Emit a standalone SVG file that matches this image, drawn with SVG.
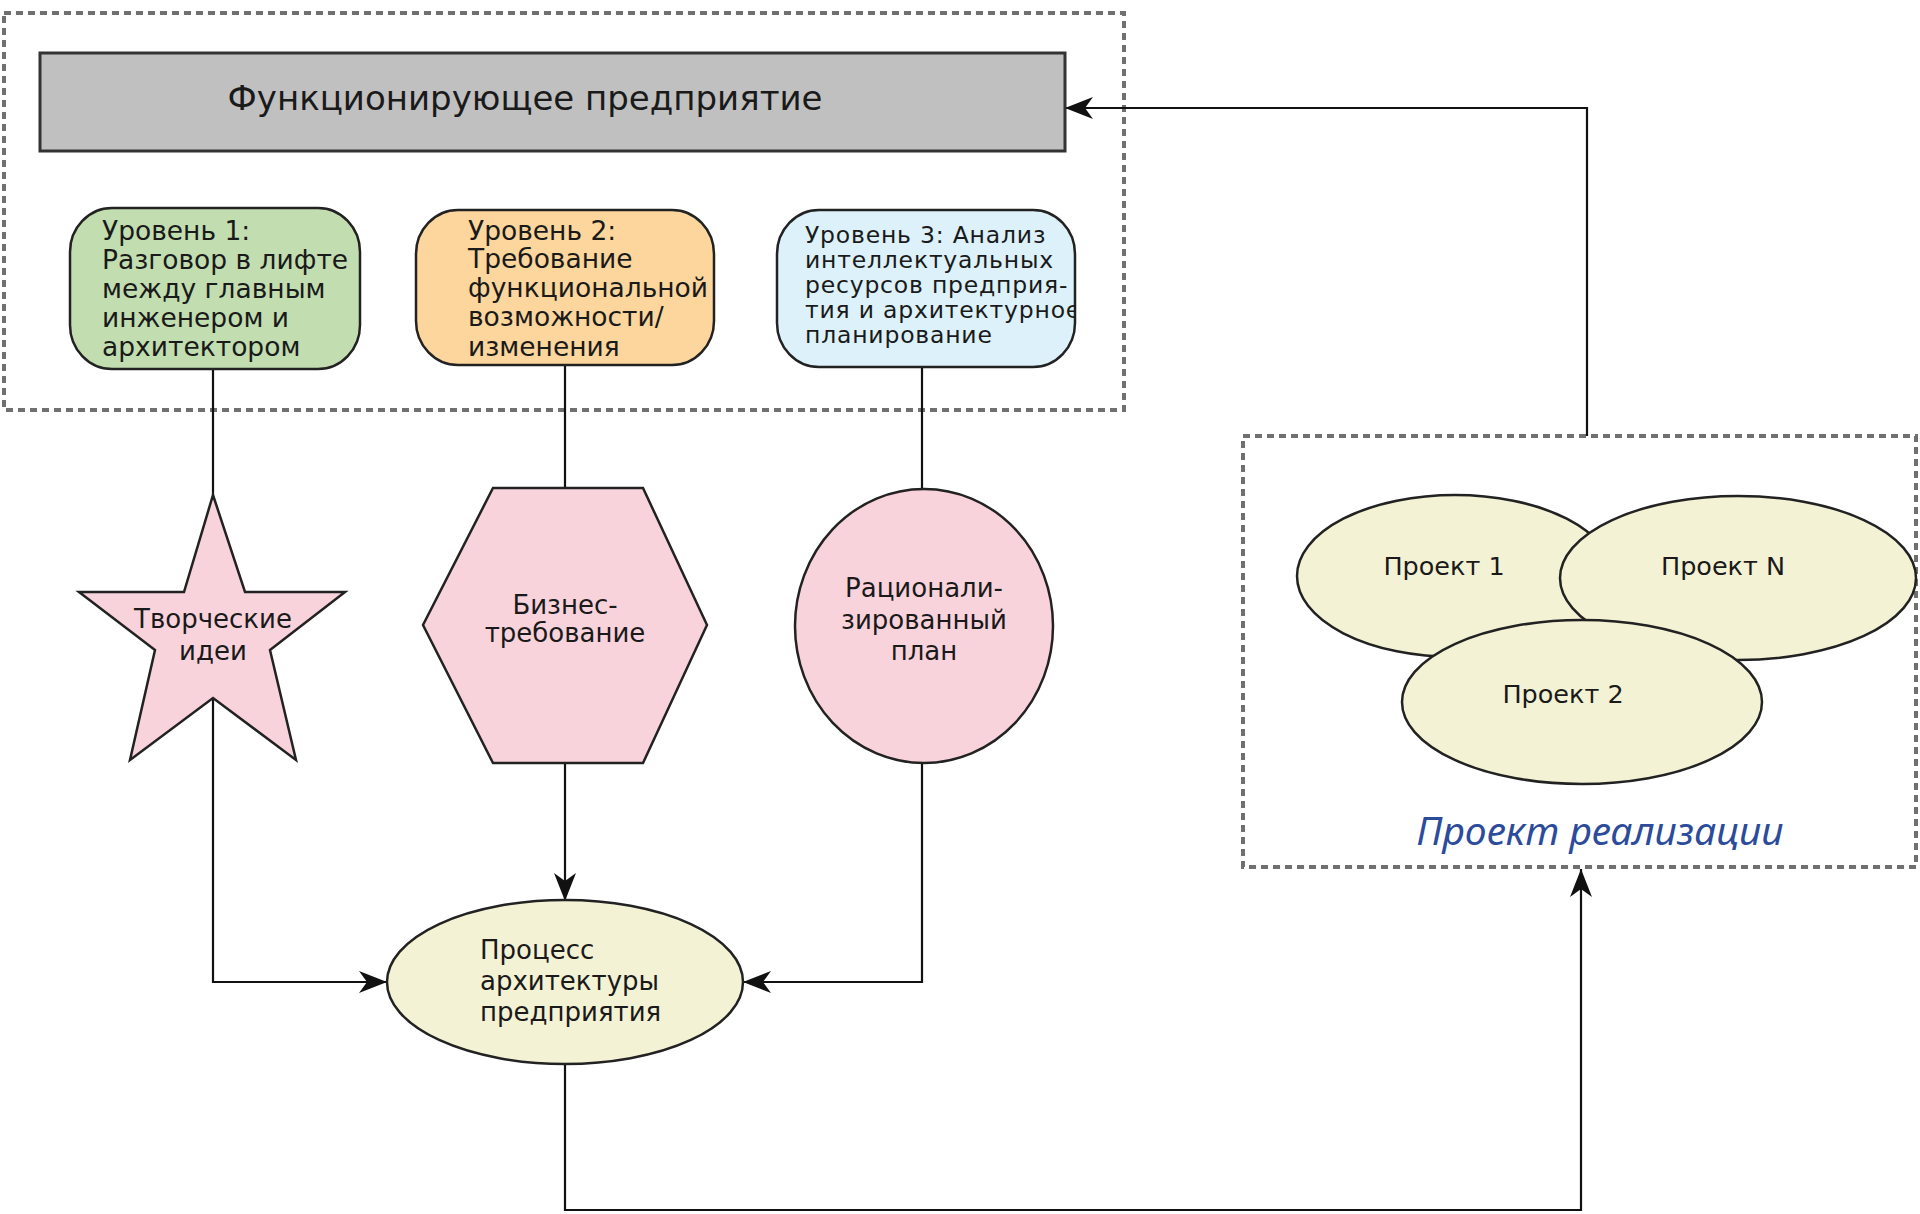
<svg xmlns="http://www.w3.org/2000/svg" width="1920" height="1214" viewBox="0 0 1920 1214">
<defs>
<style>
.dash{fill:none;stroke:#707070;stroke-width:4;stroke-dasharray:7 5}
.nd{stroke:#222;stroke-width:2.5}
.t{font-family:"DejaVu Sans","Liberation Sans",sans-serif;fill:#1a1a1a}
.c{text-anchor:middle}
.ln{fill:none;stroke:#111;stroke-width:2.2}
.arr{marker-end:url(#ah)}
</style>
<marker id="ah" markerUnits="userSpaceOnUse" markerWidth="30" markerHeight="24" refX="28" refY="11" orient="auto">
<path d="M0,0 L28,11 L0,22 L8,11 z" fill="#111"/>
</marker>
<clipPath id="n3clip"><rect x="777" y="210" width="298" height="157" rx="42" ry="44"/></clipPath>
</defs>
<rect width="1920" height="1214" fill="#fff"/>

<g id="group-top"><rect class="dash" x="4" y="13" width="1120" height="397"/></g>
<g id="group-projects"><rect class="dash" x="1243" y="436" width="673" height="431"/></g>

<g id="connectors">
<path class="ln" d="M213,369 V495"/>
<path class="ln arr" d="M213,698 V982 H387"/>
<path class="ln" d="M565,365 V488"/>
<path class="ln arr" d="M565,763 V901"/>
<path class="ln" d="M922,367 V488"/>
<path class="ln arr" d="M922,763 V982 H743"/>
<path class="ln arr" d="M565,1064 V1210 H1581 V869"/>
<path class="ln arr" d="M1587,436 V108 H1065"/>
</g>

<g id="node-enterprise">
<rect x="40" y="53" width="1025" height="98" fill="#c0c0c0" stroke="#333" stroke-width="3"/>
<text class="t c" x="525" y="110" font-size="34">Функционирующее предприятие</text>
</g>

<g id="node-level1">
<rect class="nd" x="70" y="208" width="290" height="161" rx="42" ry="44" fill="#c2deb0"/>
<text class="t" font-size="26.5"><tspan x="102" y="240">Уровень 1:</tspan><tspan x="102" y="269">Разговор в лифте</tspan><tspan x="102" y="298">между главным</tspan><tspan x="102" y="327">инженером и</tspan><tspan x="102" y="356">архитектором</tspan></text>
</g>

<g id="node-level2">
<rect class="nd" x="416" y="210" width="298" height="155" rx="42" ry="44" fill="#fcd69c"/>
<text class="t" font-size="26.5"><tspan x="468" y="240">Уровень 2:</tspan><tspan x="468" y="268">Требование</tspan><tspan x="468" y="297">функциональной</tspan><tspan x="468" y="326">возможности/</tspan><tspan x="468" y="356">изменения</tspan></text>
</g>

<g id="node-level3">
<rect class="nd" x="777" y="210" width="298" height="157" rx="42" ry="44" fill="#dcf1f9"/>
<text class="t" font-size="23.5" letter-spacing="0.8" clip-path="url(#n3clip)"><tspan x="805" y="243">Уровень 3: Анализ</tspan><tspan x="805" y="268">интеллектуальных</tspan><tspan x="805" y="293">ресурсов предприя-</tspan><tspan x="805" y="318">тия и архитектурное</tspan><tspan x="805" y="343">планирование</tspan></text>
</g>

<g id="node-ideas">
<polygon class="nd" points="213,495 245,592 345,592 270,650 296,760 213,698 130,760 155,650 79,592 184,592" fill="#f9d3dc"/>
<text class="t c" font-size="26"><tspan x="213" y="628">Творческие</tspan><tspan x="213" y="660">идеи</tspan></text>
</g>

<g id="node-business">
<polygon class="nd" points="493,488 643,488 707,625 643,763 493,763 423,625" fill="#f9d3dc"/>
<text class="t c" font-size="26"><tspan x="565" y="614">Бизнес-</tspan><tspan x="565" y="642">требование</tspan></text>
</g>

<g id="node-plan">
<ellipse class="nd" cx="924" cy="626" rx="129" ry="137" fill="#f9d3dc"/>
<text class="t c" font-size="26"><tspan x="924" y="597">Рационали-</tspan><tspan x="924" y="629">зированный</tspan><tspan x="924" y="660">план</tspan></text>
</g>

<g id="node-process">
<ellipse class="nd" cx="565" cy="982" rx="178" ry="82" fill="#f4f2d4"/>
<text class="t" font-size="26"><tspan x="480" y="959">Процесс</tspan><tspan x="480" y="990">архитектуры</tspan><tspan x="480" y="1021">предприятия</tspan></text>
</g>

<g id="node-project1">
<ellipse class="nd" cx="1455" cy="576" rx="158" ry="81" fill="#f4f2d4"/>
<text class="t c" x="1444" y="575" font-size="25.5">Проект 1</text>
</g>
<g id="node-projectN">
<ellipse class="nd" cx="1738" cy="578" rx="178" ry="82" fill="#f4f2d4"/>
<text class="t c" x="1723" y="575" font-size="25.5">Проект N</text>
</g>
<g id="node-project2">
<ellipse class="nd" cx="1582" cy="702" rx="180" ry="82" fill="#f4f2d4"/>
<text class="t c" x="1563" y="703" font-size="25.5">Проект 2</text>
</g>
<g id="label-projects">
<text x="1600" y="845" font-size="39" font-style="italic" text-anchor="middle" fill="#2c4b9b" font-family="'Noto Sans','Open Sans','Liberation Sans',sans-serif">Проект реализации</text>
</g>
</svg>
